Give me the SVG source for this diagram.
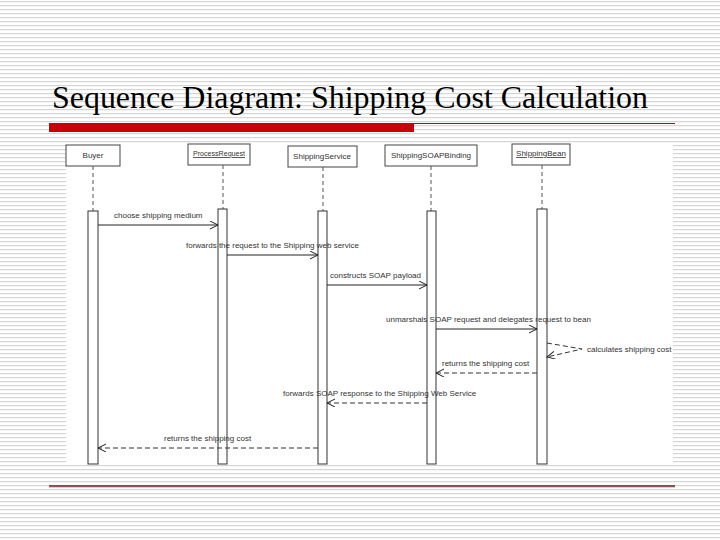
<svg xmlns="http://www.w3.org/2000/svg" width="720" height="540" viewBox="0 0 720 540">
<defs>
<pattern id="stripes" x="0" y="0" width="8" height="4" patternUnits="userSpaceOnUse">
<rect width="8" height="4" fill="#ffffff"/>
<rect y="1" width="8" height="1.2" fill="#d6d6d6"/>
</pattern>
<marker id="open" markerWidth="10" markerHeight="10" refX="8" refY="4" orient="auto" markerUnits="userSpaceOnUse">
<path d="M0,0 L8,4 L0,8" fill="none" stroke="#222" stroke-width="1"/>
</marker>
<style>
.head{fill:#fff;stroke:#444;stroke-width:1}
.htxt{font-family:"Liberation Sans",Arial,sans-serif;font-size:8px;fill:#333;text-anchor:middle}
.life{stroke:#555;stroke-width:1;stroke-dasharray:4 3;fill:none}
.act{fill:#fff;stroke:#333;stroke-width:1}
.msg{stroke:#222;stroke-width:1;fill:none}
.ret{stroke:#333;stroke-width:1;fill:none;stroke-dasharray:5 3}
.lbl{font-family:"Liberation Sans",Arial,sans-serif;font-size:8px;fill:#333}
</style>
</defs>
<rect width="720" height="540" fill="url(#stripes)"/>
<text x="52" y="108" font-family="'Liberation Serif','Times New Roman',serif" font-size="32" fill="#000" textLength="596" lengthAdjust="spacingAndGlyphs">Sequence Diagram: Shipping Cost Calculation</text>
<rect x="49" y="123" width="365" height="9" fill="#cc0000"/>
<line x1="414" y1="123.5" x2="675" y2="123.5" stroke="#8b1a1a" stroke-width="1"/>
<rect x="66" y="143" width="607" height="322" fill="#ffffff"/>
<line x1="49" y1="486" x2="675" y2="486" stroke="#6b2020" stroke-width="1.3"/>
<line x1="49" y1="487.5" x2="675" y2="487.5" stroke="#f0c8c8" stroke-width="1"/>

<g id="buyer">
<rect class="head" x="66" y="145" width="54" height="21"/>
<text class="htxt" x="93" y="158">Buyer</text>
<line class="life" x1="93" y1="166" x2="93" y2="211"/>
<rect class="act" x="88" y="211" width="10" height="253"/>
</g>
<g id="processrequest">
<rect class="head" x="188" y="144" width="62" height="21"/>
<text class="htxt" x="219" y="156" text-decoration="underline" textLength="52" lengthAdjust="spacingAndGlyphs">ProcessRequest</text>
<line class="life" x1="223" y1="165" x2="223" y2="209"/>
<rect class="act" x="218" y="209" width="9" height="255"/>
</g>
<g id="shippingservice">
<rect class="head" x="288" y="146" width="69" height="21"/>
<text class="htxt" x="322" y="159">ShippingService</text>
<line class="life" x1="323" y1="167" x2="323" y2="211"/>
<rect class="act" x="318" y="211" width="9" height="253"/>
</g>
<g id="shippingsoapbinding">
<rect class="head" x="385" y="145" width="92" height="21"/>
<text class="htxt" x="431" y="158">ShippingSOAPBinding</text>
<line class="life" x1="431" y1="166" x2="431" y2="211"/>
<rect class="act" x="427" y="211" width="9" height="253"/>
</g>
<g id="shippingbean">
<rect class="head" x="512" y="144" width="58" height="21"/>
<text class="htxt" x="541" y="156" text-decoration="underline">ShippingBean</text>
<line class="life" x1="542" y1="165" x2="542" y2="209"/>
<rect class="act" x="537" y="209" width="10" height="255"/>
</g>

<g id="connectors">
<line class="msg" x1="98" y1="225" x2="218" y2="225" marker-end="url(#open)"/>
<text class="lbl" x="114" y="218">choose shipping medium</text>
<line class="msg" x1="227" y1="255" x2="318" y2="255" marker-end="url(#open)"/>
<text class="lbl" x="186" y="248">forwards the request to the Shipping web service</text>
<line class="msg" x1="327" y1="285" x2="427" y2="285" marker-end="url(#open)"/>
<text class="lbl" x="330" y="278">constructs SOAP payload</text>
<line class="msg" x1="436" y1="329" x2="537" y2="329" marker-end="url(#open)"/>
<text class="lbl" x="386" y="322">unmarshals SOAP request and delegates request to bean</text>
<path class="ret" d="M547,343 L582,349 L547,357" marker-end="url(#open)"/>
<text class="lbl" x="587" y="352">calculates shipping cost</text>
<line class="ret" x1="537" y1="373" x2="436" y2="373" marker-end="url(#open)"/>
<text class="lbl" x="442" y="366">returns the shipping cost</text>
<line class="ret" x1="427" y1="403" x2="327" y2="403" marker-end="url(#open)"/>
<text class="lbl" x="283" y="396">forwards SOAP response to the Shipping Web Service</text>
<line class="ret" x1="318" y1="448" x2="98" y2="448" marker-end="url(#open)"/>
<text class="lbl" x="164" y="441">returns the shipping cost</text>
</g>
</svg>
